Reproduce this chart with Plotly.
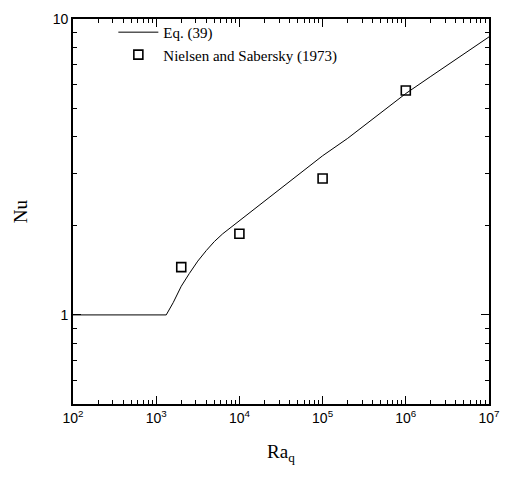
import plotly.graph_objects as go

# Eq. (39) curve
eq_ra = [100, 1320, 1600, 2000, 2500, 3160, 4000, 5000, 6300, 8000, 10000, 20000, 50000,
         1e5, 2e5, 5e5, 1e6, 2e6, 5e6, 1e7]
eq_nu = [1.0, 1.0, 1.10, 1.25, 1.38, 1.52, 1.65, 1.77, 1.88, 1.98, 2.08, 2.42, 2.95,
         3.45, 3.95, 4.8, 5.6, 6.4, 7.6, 8.7]

# Nielsen and Sabersky (1973) data
ns_ra = [2000, 10000, 100000, 1000000]
ns_nu = [1.45, 1.88, 2.89, 5.73]

x_tickvals = [1e2, 1e3, 1e4, 1e5, 1e6, 1e7]
x_ticktext = ["10<sup>2</sup>", "10<sup>3</sup>", "10<sup>4</sup>", "10<sup>5</sup>", "10<sup>6</sup>", "10<sup>7</sup>"]
y_tickvals = [1, 10]
y_ticktext = ["1", "10"]

SERIF = "Liberation Serif, Times New Roman, DejaVu Serif, serif"
SANS = "Liberation Sans, Arial, sans-serif"

fig = go.Figure()
fig.add_trace(go.Scatter(x=eq_ra, y=eq_nu, mode="lines", name="Eq. (39)",
                         line=dict(color="black", width=1)))
fig.add_trace(go.Scatter(x=ns_ra, y=ns_nu, mode="markers", name="Nielsen and Sabersky (1973)",
                         marker=dict(symbol="square-open", size=9, color="black",
                                     line=dict(width=1.6, color="black"))))

axis_common = dict(showline=True, linecolor="black", linewidth=1.6, mirror="allticks",
                   ticks="inside", ticklen=8, tickwidth=1.2, tickcolor="black",
                   showgrid=False, zeroline=False,
                   tickfont=dict(family=SANS, size=14, color="black"))

fig.update_xaxes(type="log", range=[2, 7], tickvals=x_tickvals, ticktext=x_ticktext,
                 minor=dict(ticks="inside", ticklen=4, tickwidth=1, tickcolor="black", dtick="D1"),
                 title=dict(text="Ra<sub>q</sub>", font=dict(family=SERIF, size=19, color="black"),
                            standoff=20),
                 **axis_common)
fig.update_yaxes(type="log", range=[-0.30103, 1], tickvals=y_tickvals, ticktext=y_ticktext,
                 minor=dict(ticks="inside", ticklen=4, tickwidth=1, tickcolor="black", dtick="D1"),
                 title=dict(text="Nu", font=dict(family=SERIF, size=19, color="black"),
                            standoff=20),
                 **axis_common)

fig.update_layout(width=511, height=477, margin=dict(l=73, r=15, t=11, b=73),
                  plot_bgcolor="white", paper_bgcolor="white",
                  showlegend=True,
                  legend=dict(x=0.097, y=1.008, xanchor="left", yanchor="top",
                              bgcolor="rgba(0,0,0,0)",
                              font=dict(family=SERIF, size=15, color="black"),
                              tracegroupgap=0, itemwidth=40))

fig.write_html("out.html")
